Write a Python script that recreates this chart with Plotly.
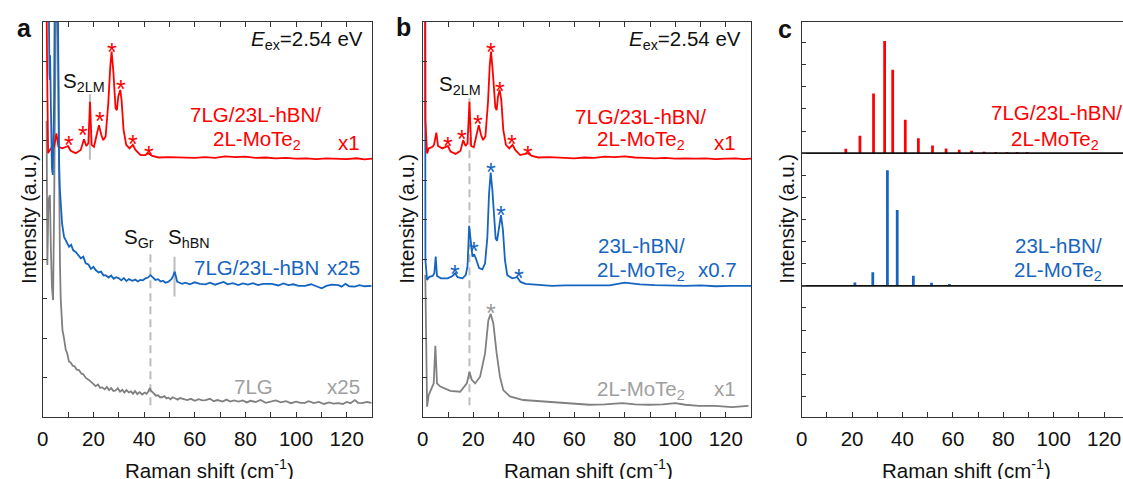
import plotly.graph_objects as go

W, H = 1123, 479
FONT = "Arial, Liberation Sans, sans-serif"
RED = "#ff0000"
BLUE = "#1565c0"
GRAY = "#808080"
LGRAY = "#a0a0a0"
VGRAY = "#bdbdbd"
AX = "#333333"

# ---------------- Panel a data ----------------
a_red_x = [1.2, 1.44, 1.71, 2.10, 3.15, 4.46, 5.38, 6.17, 7.74, 9.97, 11.0, 13.0, 14.96, 16.27, 17.19,
           17.98, 18.64, 19.29, 20.21, 21.26, 22.18, 23.10, 23.88, 24.80, 25.85, 26.64, 27.17, 27.82,
           28.74, 29.26, 29.79, 30.58, 31.10, 31.89, 32.94, 34.25, 35.56, 36.61, 38.58, 40.55, 41.6,
           43.18, 45.8, 50.0, 56.3, 60, 64, 68, 72, 76, 80, 84, 88, 92, 96, 100, 104, 108, 112, 116,
           120, 124, 127, 130]
a_red_y = [130, 102, 87.8, 66.8, 68.0, 68.4, 71.8, 68.4, 68.0, 68.6, 67.4, 66.8, 67.6, 70.3, 68.6,
           69.3, 79.8, 68.9, 68.4, 71.4, 73.9, 71.4, 70.1, 71.0, 79.4, 88.7, 92.5, 87.8,
           78.1, 77.7, 81.1, 82.8, 80.3, 72.7, 68.9, 68.0, 68.9, 67.6, 66.3, 66.3, 66.8,
           66.1, 65.7, 65.8, 65.6, 65.6, 65.8, 65.6, 66.0, 65.8, 65.9, 65.6, 65.7, 65.5, 65.6, 65.4,
           65.5, 65.3, 65.5, 65.4, 65.3, 65.5, 65.2, 65.4]

a_blue_x = [2.0, 2.24, 2.48, 2.62, 2.76, 2.87, 3.03, 3.2, 3.35, 3.6, 3.94, 4.2, 4.45, 4.65, 4.75,
            5.8, 6.02, 6.1, 6.25, 6.42, 6.7, 7.09, 7.6, 8.39, 9.2, 10.35, 11.2, 12.0, 12.99, 14.0,
            15.0, 16.0, 16.93, 18.0, 19.0, 20.0, 20.87, 22.0, 23.0, 24.0, 24.8, 26.0, 27.0, 28.0,
            29.0, 30.04, 31.0, 32.0, 33.0, 34.0, 35.31, 36.5, 37.5, 38.5, 39.5, 40.55, 41.5, 42.52,
            43.5, 44.49, 45.5, 46.5, 47.5, 48.43, 49.5, 50.3, 50.79, 51.5, 52.09, 52.6, 53.03, 54.0,
            55.0, 56.3, 58, 60, 62, 64.2, 66, 68, 70, 71.4, 73, 75, 77.2, 79, 81, 83, 85, 87, 90.4,
            93, 95, 97, 99, 101, 103.5, 106, 108, 110.1, 112, 114, 116.7, 118, 119.5, 121, 123.2,
            125, 127, 129.8]
a_blue_y = [130, 100, 92.9, 87, 85.3, 91.6, 85.8, 78, 67.6, 63, 61.3, 68, 80.3, 100, 130,
            130, 100, 90.4, 75, 65.1, 58, 52.4, 49, 45.6, 44.5, 43.1, 43.6, 42.2, 41.8, 41.0,
            40.2, 40.6, 38.9, 38.6, 37.5, 38.0, 37.2, 36.6, 36.8, 35.8, 35.9, 35.3, 35.8, 35.0,
            35.4, 35.1, 34.6, 35.2, 34.4, 34.9, 34.5, 34.8, 34.3, 34.7, 34.6, 35.1, 35.3, 35.9,
            35.3, 34.7, 34.9, 34.3, 34.5, 34.0, 34.2, 34.5, 34.9, 35.8, 36.8, 35.5, 34.3, 34.0,
            33.7, 34.0, 33.6, 34.1, 33.7, 33.6, 34.0, 33.5, 33.9, 34.2, 33.6, 33.9, 33.4, 33.8,
            33.5, 33.9, 33.4, 33.7, 33.7, 33.3, 33.8, 33.4, 33.6, 33.2, 33.2, 33.6, 33.1, 32.6,
            33.2, 33.5, 33.4, 33.0, 33.7, 33.1, 33.0, 33.4, 33.1, 33.2]

a_gray_x = [1.5, 1.65, 1.8, 2.0, 2.2, 2.8, 3.2, 3.6, 4.06, 4.3, 4.5, 4.8, 5.0, 5.8, 5.9, 6.2, 6.5,
            6.8, 7.09, 7.4, 7.76, 8.3, 9.06, 9.6, 10.35, 11.0, 11.8, 12.6, 13.4, 14.29, 15.2, 16.0,
            17.0, 18.23, 19.0, 20.0, 20.87, 21.8, 22.6, 23.5, 24.4, 25.3, 26.2, 27.0, 27.9, 28.74,
            29.6, 30.5, 31.4, 32.2, 33.0, 33.98, 34.8, 35.6, 36.4, 37.3, 38.2, 39.25, 40.2, 41.0,
            41.7, 42.24, 42.8, 43.82, 44.6, 45.5, 46.3, 47.13, 48.0, 48.8, 49.6, 50.4, 51.3, 52.36,
            53.2, 54.2, 55.6, 57, 58.5, 60, 61.5, 63, 64.2, 66, 67.5, 69, 71, 72.5, 74, 75.5, 77.3,
            79, 80.5, 82, 84, 86, 88, 90.4, 92, 94, 96, 98, 100, 101.8, 103.5, 105, 107, 109, 111,
            113, 114.8, 116.7, 118.5, 120, 121.5, 123.2, 124.5, 126, 128, 129.8]
a_gray_y = [75, 62, 38.5, 46, 54.9, 56.2, 42.3, 33, 29.6, 40, 54.9, 80, 130, 130, 100, 75, 54.9,
            38, 29.6, 25, 22.0, 20.2, 17.0, 16.2, 14.0, 13.8, 13.0, 12.8, 12.0, 11.9, 11.0, 10.8,
            9.9, 9.4, 8.9, 8.3, 7.8, 8.2, 7.4, 7.5, 7.0, 7.6, 6.8, 7.3, 6.6, 6.7,
            7.3, 6.4, 6.9, 6.2, 6.8, 6.2, 6.5, 5.9, 6.6, 5.8, 6.3, 5.7, 6.2, 5.9,
            6.5, 7.3, 6.6, 6.0, 5.4, 5.5, 5.0, 5.0, 5.3, 4.7, 4.9, 4.5, 5.0, 4.7,
            4.4, 4.8, 4.5, 4.3, 4.6, 4.1, 4.5, 4.2, 4.3, 4.6, 4.0, 4.3, 3.9, 4.4, 3.9, 4.2, 3.9,
            4.2, 3.7, 4.1, 3.8, 4.3, 3.6, 3.9, 4.2, 3.7, 4.0, 3.5, 3.9, 3.6, 3.6, 4.0, 3.5, 3.8, 3.3,
            3.7, 3.4, 3.5, 3.3, 3.8, 3.5, 4.3, 3.6, 3.5, 3.8, 3.6]

a_red_star_x = [10.35, 16.0, 22.4, 27.3, 30.8, 35.6, 41.8]
a_red_star_y = [70.6, 73.1, 76.7, 94.2, 84.9, 71.0, 68.2]

# ---------------- Panel b data ----------------
b_red_x = [0.9, 1.05, 1.71, 2.36, 3.81, 4.46, 5.38, 6.04, 7.74, 9.97, 11.0, 13.0, 14.96, 16.01,
           16.93, 17.72, 18.5, 19.16, 20.21, 21.26, 22.18, 23.10, 23.88, 24.8, 25.85, 26.5, 27.04,
           27.69, 28.74, 29.26, 29.79, 30.45, 31.10, 31.89, 32.94, 34.25, 35.56, 36.61, 38.58, 41.6,
           43.18, 45.8, 50.0, 56.3, 60, 64, 68, 72, 76, 80, 84, 88, 92, 96, 100, 104, 108, 112, 116,
           120, 124, 127, 130]
b_red_y = [130, 75.2, 66.7, 68.0, 68.4, 68.9, 72.0, 68.6, 68.0, 68.6, 67.2, 66.6, 67.4, 70.1,
           68.6, 69.3, 79.8, 68.6, 68.3, 71.4, 73.9, 71.4, 70.1, 71.0, 79.8, 88.7, 92.5,
           87.8, 78.4, 77.7, 81.1, 82.8, 80.3, 72.7, 68.9, 68.0, 68.9, 67.6, 66.3, 66.8,
           66.1, 65.7, 65.8, 65.6, 65.5, 65.7, 65.6, 65.9, 65.8, 66.0, 65.7, 65.6, 65.5, 65.6, 65.4,
           65.5, 65.4, 65.5, 65.3, 65.4, 65.5, 65.3, 65.4]

b_blue_x = [0.92, 1.05, 1.71, 2.62, 3.94, 4.59, 5.12, 5.64, 7.22, 9.84, 11.81, 12.86, 13.78,
            15.75, 17.06, 17.72, 18.37, 19.03, 19.69, 20.34, 21.0, 22.31, 23.62, 24.67, 25.59,
            26.25, 26.9, 27.56, 28.22, 28.87, 29.4, 30.18, 30.97, 31.76, 32.55, 33.47, 35.43, 37.4,
            38.71, 40.68, 45.93, 51.18, 56.43, 62, 68, 74, 80, 86, 92, 98, 104, 110, 116, 122,
            126, 130]
b_blue_y = [130, 39.7, 34.7, 35.5, 35.7, 36.4, 40.6, 35.7, 35.1, 35.1, 35.7, 36.4, 35.4,
            35.1, 36.0, 38.1, 48.4, 44.0, 40.6, 41.2, 40.2, 37.7, 37.4, 38.9, 45.6,
            56.6, 61.9, 57.5, 49.9, 45.2, 44.6, 48.2, 51.1, 47.3, 39.7, 35.9, 35.1, 35.4,
            34.2, 33.7, 33.4, 33.2, 33.3, 33.3, 33.4, 33.3, 34.0, 33.6, 33.4, 33.3, 33.2, 33.3,
            33.1, 33.2, 33.2, 33.2]

b_gray_x = [1.0, 1.71, 2.36, 3.67, 4.33, 4.99, 5.64, 6.96, 10.89, 14.83, 17.45, 18.5, 19.42,
            20.73, 22.7, 24.67, 25.98, 26.9, 27.95, 29.27, 30.58, 31.89, 34.51, 39.76, 47.64,
            56.82, 66.0, 72.0, 79.1, 84.0, 89.6, 95.0, 100.1, 104.0, 109.3, 115.9, 122.4, 129.0]
b_gray_y = [36, 2.6, 5.6, 7.7, 8.5, 18.0, 8.5, 7.7, 6.6, 6.4, 8.5, 11.4, 9.4,
            8.5, 10.2, 16.1, 24.5, 26.1, 23.7, 16.1, 10.2, 6.8, 5.2, 4.3, 3.9,
            3.5, 3.1, 3.2, 3.5, 3.2, 3.1, 3.2, 3.5, 3.1, 2.8, 2.8, 2.5, 2.8]

b_red_star_x = [9.97, 15.35, 22.05, 27.03, 30.45, 35.3, 41.6]
b_red_star_y = [70.4, 72.2, 76.0, 94.2, 84.2, 71.0, 68.0]
b_blue_star_x = [12.86, 20.21, 26.9, 30.97, 37.92]
b_blue_star_y = [38.1, 43.8, 63.8, 53.0, 37.0]
b_gray_star_x = [26.9]
b_gray_star_y = [28.1]

# ---------------- Panel c data ----------------
C_RED_BASE = 66.8
C_BLUE_BASE = 33.2
c_red_x = [17.5, 23.1, 28.5, 32.9, 36.1, 41.1, 46.3, 51.9, 57.3, 62.5, 67.4, 72.4, 77.0, 81.5, 85.5, 89.5]
c_red_h = [1.09, 4.38, 15.1, 28.4, 21.1, 8.43, 3.8, 1.95, 1.19, 0.84, 0.58, 0.33, 0.25, 0.2, 0.13, 0.1]
c_blue_x = [14.1, 21.1, 28.2, 34.0, 37.9, 44.3, 51.5, 58.6, 65.5]
c_blue_h = [0.18, 0.84, 3.47, 29.3, 19.2, 2.53, 0.76, 0.43, 0.18]

# marker lines: (x, y0, y1)
a_s2lm = (18.6, 65.1, 81.7)
a_sgr = (42.5, 3.0, 41.5)
a_shbn = (52.0, 30.5, 40.6)
b_s2lm = (18.5, 3.0, 80.8)

fig = go.Figure()


def add_line(x, y, color, xa, ya, width=1.8, dash=None):
    fig.add_trace(go.Scatter(x=x, y=y, mode="lines",
                             line=dict(color=color, width=width, dash=dash),
                             xaxis=xa, yaxis=ya, showlegend=False, hoverinfo="skip"))


# panel a
add_line([a_s2lm[0]] * 2, [a_s2lm[1], a_s2lm[2]], VGRAY, "x", "y", 2)
add_line([a_sgr[0]] * 2, [a_sgr[1], a_sgr[2]], VGRAY, "x", "y", 2, "8px,5px")
add_line([a_shbn[0]] * 2, [a_shbn[1], a_shbn[2]], VGRAY, "x", "y", 2)
add_line(a_gray_x, a_gray_y, GRAY, "x", "y")
add_line(a_red_x, a_red_y, RED, "x", "y")
add_line(a_blue_x, a_blue_y, BLUE, "x", "y")

# panel b
add_line([b_s2lm[0]] * 2, [b_s2lm[1], b_s2lm[2]], VGRAY, "x2", "y2", 2, "8px,5px")
add_line(b_gray_x, b_gray_y, GRAY, "x2", "y2")
add_line(b_blue_x, b_blue_y, BLUE, "x2", "y2")
add_line(b_red_x, b_red_y, RED, "x2", "y2")

# panel c
fig.add_trace(go.Bar(x=c_red_x, y=c_red_h, base=C_RED_BASE, width=1.1, marker=dict(color=RED, line=dict(width=0)),
                     xaxis="x3", yaxis="y3", showlegend=False, hoverinfo="skip"))
fig.add_trace(go.Bar(x=c_blue_x, y=c_blue_h, base=C_BLUE_BASE, width=1.1, marker=dict(color=BLUE, line=dict(width=0)),
                     xaxis="x3", yaxis="y3", showlegend=False, hoverinfo="skip"))
C_XMAX = 127.5
add_line([0, C_XMAX], [C_RED_BASE, C_RED_BASE], "#111111", "x3", "y3", 1.6)
add_line([0, C_XMAX], [C_BLUE_BASE, C_BLUE_BASE], "#111111", "x3", "y3", 1.6)

ann = []


def star(xs, ys, color, xr, yr):
    for x, y in zip(xs, ys):
        ann.append(dict(x=x, y=y, xref=xr, yref=yr, text="*", showarrow=False,
                        font=dict(size=25, color=color, family=FONT), yshift=-7))


star(a_red_star_x, a_red_star_y, RED, "x", "y")
star(b_red_star_x, b_red_star_y, RED, "x2", "y2")
star(b_blue_star_x, b_blue_star_y, BLUE, "x2", "y2")
star(b_gray_star_x, b_gray_star_y, "#999999", "x2", "y2")


def label(text, x, y, color="#111111", size=20.5, xanchor="center", angle=0):
    ann.append(dict(x=x / W, y=1 - y / H, xref="paper", yref="paper", text=text, showarrow=False,
                    xanchor=xanchor, yanchor="middle", textangle=angle,
                    font=dict(size=size, color=color, family=FONT)))


EEX = "<i>E</i><sub>ex</sub>=2.54 eV"
MOTE = "2L-MoTe<sub>2</sub>"
# panel a
label("<b>a</b>", 19, 28, size=25)
label(EEX, 361, 40, xanchor="right")
label("S<sub>2LM</sub>", 78, 82)
label("7LG/23L-hBN/", 251, 115, RED)
label(MOTE, 252, 140, RED)
label("x1", 358, 142, RED, xanchor="right")
label("S<sub>Gr</sub>", 134, 238)
label("S<sub>hBN</sub>", 184, 238)
label("7LG/23L-hBN", 252, 267, BLUE)
label("x25", 358, 267, BLUE, xanchor="right")
label("7LG", 249, 386, LGRAY)
label("x25", 358, 386, LGRAY, xanchor="right")
# panel b
label("<b>b</b>", 400, 27, size=25)
label(EEX, 741, 40, xanchor="right")
label("S<sub>2LM</sub>", 456, 85)
label("7LG/23L-hBN/", 638, 116, RED)
label(MOTE, 638, 140, RED)
label("x1", 736, 142, RED, xanchor="right")
label("23L-hBN/", 638.5, 245, BLUE)
label(MOTE, 638.5, 271, BLUE)
label("x0.7", 737, 269, BLUE, xanchor="right")
label(MOTE, 638, 390, LGRAY)
label("x1", 736, 388, LGRAY, xanchor="right")
# panel c
label("<b>c</b>", 783, 29, size=25)
label("7LG/23L-hBN/", 1056, 112, RED)
label(MOTE, 1055, 140, RED)
label("23L-hBN/", 1058, 245, BLUE)
label(MOTE, 1058, 271, BLUE)
# axis titles
for xc in (22, 402, 784):
    label("Intensity (a.u.)", xc, 219, angle=-90)
for xc in (205, 586, 966):
    label("Raman shift (cm<sup>-1</sup>)", xc, 469)

YD = [(479 - 417) / H, (479 - 22) / H]
xa_common = dict(range=[0, 130], showline=True, linecolor=AX, linewidth=1.3, ticks="inside", ticklen=5,
                 tickwidth=1.3, tickcolor=AX, tick0=0, dtick=20, ticklabelstandoff=3,
                 minor=dict(dtick=10, ticks="inside", ticklen=5, tickwidth=1.3, tickcolor=AX),
                 showgrid=False, zeroline=False, tickfont=dict(size=20.5, color="#111111", family=FONT))
ya_common = dict(range=[0, 100], showline=True, linecolor=AX, linewidth=1.3, ticks="inside", ticklen=4,
                 tickwidth=1.3, tickcolor=AX, showticklabels=False, showgrid=False, zeroline=False)

fig.update_layout(
    width=W, height=H, margin=dict(l=0, r=0, t=0, b=0),
    paper_bgcolor="white", plot_bgcolor="white", font=dict(family=FONT),
    xaxis=dict(xa_common, domain=[37 / W, 368 / W], anchor="y", mirror="ticks"),
    xaxis2=dict(xa_common, domain=[419 / W, 749 / W], anchor="y2", mirror="ticks"),
    xaxis3=dict(xa_common, domain=[800 / W, 1.0], anchor="y3", mirror=True, range=[0, C_XMAX]),
    yaxis=dict(ya_common, domain=YD, anchor="x", mirror=True, tick0=0, dtick=10),
    yaxis2=dict(ya_common, domain=YD, anchor="x2", mirror=True, tick0=0, dtick=10),
    yaxis3=dict(ya_common, domain=YD, anchor="x3", mirror=False, tick0=C_BLUE_BASE, dtick=5.6),
    annotations=ann, barmode="overlay",
)

fig.write_html("out.html", config={"displayModeBar": False},
               post_script="document.body.style.margin='0';document.body.style.overflow='hidden';")
